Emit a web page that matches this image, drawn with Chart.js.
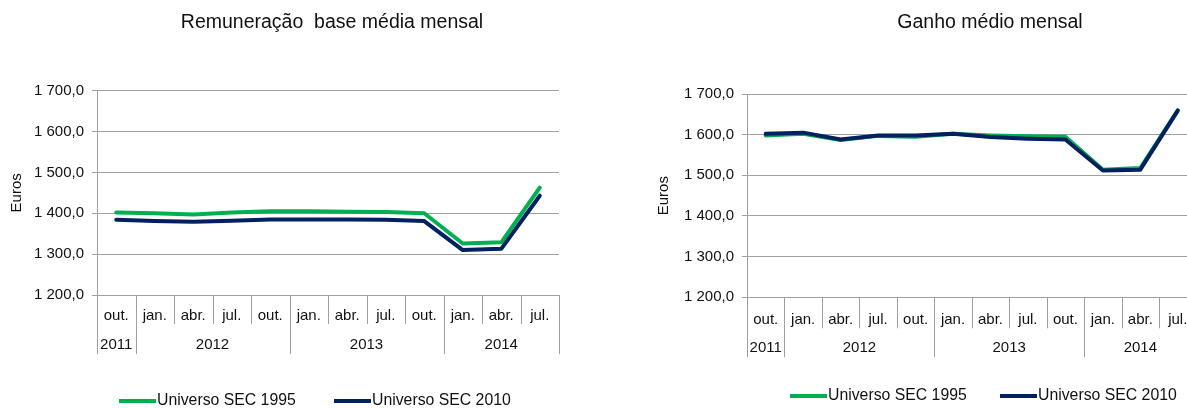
<!DOCTYPE html>
<html>
<head>
    <meta charset="utf-8">
    <title>Remuneração base e ganho médio mensal</title>
    <script src="https://cdn.jsdelivr.net/npm/chart.js"></script>
    <style>
        html, body { margin: 0; padding: 0; background: #fff; overflow: hidden; }
        body { width: 1187px; height: 408px; position: relative; }
        canvas { position: absolute; top: 0; }
        #baseChart { left: 0; }
        #gainChart { left: 600px; }
    </style>
</head>
<body>
    <canvas id="baseChart" width="600" height="408"></canvas>
    <canvas id="gainChart" width="600" height="408"></canvas>

    <script>
        // categories (quarter months) and the year groups under them
        const months = ['out.', 'jan.', 'abr.', 'jul.', 'out.', 'jan.', 'abr.', 'jul.', 'out.', 'jan.', 'abr.', 'jul.'];
        const years = ['2011', '2012', '2013', '2014'];
        const yearSpans = [1, 4, 4, 3];
        const seriesNames = ['Universo SEC 1995', 'Universo SEC 2010'];

        // Remuneração base média mensal (euros)
        const baseSec1995 = [1402, 1400, 1397, 1402, 1405, 1405, 1404, 1403, 1400, 1326, 1329, 1463];
        const baseSec2010 = [1384, 1381, 1379, 1382, 1385, 1385, 1385, 1384, 1381, 1310, 1313, 1443];

        // Ganho médio mensal (euros)
        const gainSec1995 = [1598, 1602, 1587, 1597, 1595, 1602, 1598, 1596, 1595, 1514, 1518, 1660];
        const gainSec2010 = [1602, 1605, 1588, 1598, 1598, 1602, 1594, 1590, 1588, 1512, 1514, 1659];

        const yMin = 1200, yMax = 1700, yStep = 100;

        const FONT = '"Liberation Sans", Arial, sans-serif';
        const TEXT = '#111';
        const GRID = '#a0a0a0';
        const GREEN = '#00B050';
        const NAVY = '#002060';

        // 1 700,0 style numbers
        function fmt(v) {
            const parts = v.toFixed(1).split('.');
            const int = parts[0].replace(/\B(?=(\d{3})+(?!\d))/g, ' ');
            return int + ',' + parts[1];
        }

        // title, two-level category axis and legend, drawn off the chart's own scales
        const decorations = {
            id: 'decorations',
            afterDraw(chart, args, opts) {
                const ctx = chart.ctx;
                const x = chart.scales.x;
                const area = chart.chartArea;
                const half = (x.getPixelForValue(1) - x.getPixelForValue(0)) / 2;
                const edge = i => i < months.length ? x.getPixelForValue(i) - half : x.getPixelForValue(months.length - 1) + half;
                const crisp = v => Math.round(v) + 0.5;

                ctx.save();
                ctx.fillStyle = TEXT;
                ctx.textAlign = 'center';
                ctx.textBaseline = 'middle';

                ctx.font = '19.5px ' + FONT;
                ctx.fillText(opts.title, opts.titleX, opts.titleY);

                // separators
                ctx.strokeStyle = GRID;
                ctx.lineWidth = 1;
                ctx.beginPath();
                for (let i = 1; i < months.length; i++) {
                    ctx.moveTo(crisp(edge(i)), area.bottom);
                    ctx.lineTo(crisp(edge(i)), area.bottom + opts.monthRow);
                }
                let b = 0;
                const bounds = [0];
                yearSpans.forEach(s => { b += s; bounds.push(b); });
                bounds.forEach(i => {
                    ctx.moveTo(crisp(edge(i)), area.bottom);
                    ctx.lineTo(crisp(edge(i)), area.bottom + opts.yearRow);
                });
                ctx.stroke();

                ctx.font = '15px ' + FONT;
                months.forEach((m, i) => ctx.fillText(m, x.getPixelForValue(i), area.bottom + opts.monthY));
                years.forEach((y, k) => ctx.fillText(y, (edge(bounds[k]) + edge(bounds[k + 1])) / 2, area.bottom + opts.yearY));

                // legend
                ctx.textAlign = 'left';
                ctx.font = '15.8px ' + FONT;
                ctx.lineWidth = 4;
                chart.data.datasets.forEach((ds, k) => {
                    const lx = opts.legendX[k];
                    ctx.strokeStyle = ds.borderColor;
                    ctx.beginPath();
                    ctx.moveTo(lx, opts.legendY);
                    ctx.lineTo(lx + 37, opts.legendY);
                    ctx.stroke();
                    ctx.fillText(ds.label, lx + 38, opts.legendY);
                });
                ctx.restore();
            }
        };

        function makeChart(id, s1995, s2010, cfg) {
            return new Chart(document.getElementById(id), {
                type: 'line',
                data: {
                    labels: months,
                    datasets: [
                        { label: seriesNames[0], data: s1995, borderColor: GREEN, backgroundColor: GREEN, order: 1 },
                        { label: seriesNames[1], data: s2010, borderColor: NAVY, backgroundColor: NAVY, order: 0 }
                    ]
                },
                options: {
                    responsive: false,
                    animation: false,
                    devicePixelRatio: 1,
                    layout: { padding: cfg.padding },
                    elements: {
                        line: { borderWidth: 4, tension: 0, borderJoinStyle: 'round', borderCapStyle: 'round' },
                        point: { radius: 0 }
                    },
                    plugins: {
                        legend: { display: false },
                        title: { display: false },
                        tooltip: { enabled: false },
                        decorations: cfg.deco
                    },
                    scales: {
                        x: {
                            offset: true,
                            ticks: { display: false },
                            grid: { display: false },
                            border: { display: false },
                            afterFit: s => { s.height = 0; }
                        },
                        y: {
                            min: yMin,
                            max: yMax,
                            ticks: {
                                stepSize: yStep,
                                padding: 8,
                                color: TEXT,
                                font: { family: FONT, size: 15 },
                                callback: v => fmt(v)
                            },
                            grid: { color: GRID, tickLength: 5, lineWidth: 1 },
                            border: { color: GRID },
                            title: {
                                display: true,
                                text: 'Euros',
                                color: TEXT,
                                font: { family: FONT, size: 15 },
                                padding: { top: cfg.titlePad, bottom: 0 }
                            },
                            afterFit: s => { s.width = cfg.axisWidth; }
                        }
                    }
                },
                plugins: [decorations]
            });
        }

        makeChart('baseChart', baseSec1995, baseSec2010, {
            padding: { top: 90.7, bottom: 113, left: 0, right: 41 },
            axisWidth: 97,
            titlePad: 8,
            deco: {
                title: 'Remuneração  base média mensal',
                titleX: 332, titleY: 23,
                monthRow: 29, yearRow: 59, monthY: 20.5, yearY: 50,
                legendX: [119, 334], legendY: 401
            }
        });

        makeChart('gainChart', gainSec1995, gainSec2010, {
            padding: { top: 94, bottom: 110.7, left: 0, right: 3.5 },
            axisWidth: 147,
            titlePad: 55,
            deco: {
                title: 'Ganho médio mensal',
                titleX: 390, titleY: 23,
                monthRow: 31, yearRow: 60, monthY: 23, yearY: 51,
                legendX: [190, 400], legendY: 396
            }
        });
    </script>
</body>
</html>
